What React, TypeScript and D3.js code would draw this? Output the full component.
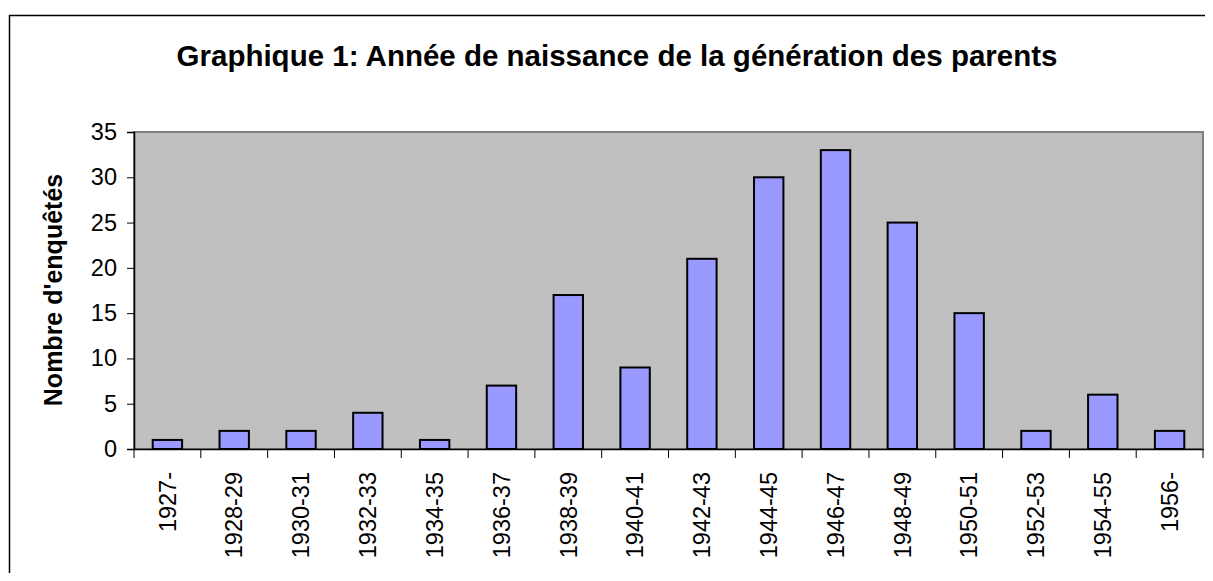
import { useEffect, useRef } from "react";
import * as d3 from "d3";

const categories = [
  "1927-", "1928-29", "1930-31", "1932-33", "1934-35", "1936-37", "1938-39", "1940-41",
  "1942-43", "1944-45", "1946-47", "1948-49", "1950-51", "1952-53", "1954-55", "1956-",
];
const values = [1, 2, 2, 4, 1, 7, 17, 9, 21, 30, 33, 25, 15, 2, 6, 2];
const yTicks = [0, 5, 10, 15, 20, 25, 30, 35];

const title = "Graphique 1: Année de naissance de la génération des parents";
const yLabel = "Nombre d'enquêtés";

export default function App() {
  const svgRef = useRef<SVGSVGElement>(null);

  useEffect(() => {
    if (!svgRef.current) return;
    const width = 1213;
    const height = 581;
    const svg = d3.select(svgRef.current);
    svg.selectAll("*").remove();

    const font = "Arial, 'Liberation Sans', sans-serif";
    const left = 134, right = 1203, top = 132, bottom = 449;

    // outer chart frame
    svg.append("rect")
      .attr("x", 9.5).attr("y", 15.5)
      .attr("width", width).attr("height", height)
      .attr("fill", "#fff").attr("stroke", "#000").attr("stroke-width", 1.5);

    svg.append("text")
      .attr("x", 617).attr("y", 66)
      .attr("text-anchor", "middle")
      .attr("font-family", font).attr("font-weight", "bold").attr("font-size", 29.5)
      .text(title);

    const x = d3.scaleBand<string>().domain(categories).range([left, right]).paddingInner(0.56).paddingOuter(0.28);
    const y = d3.scaleLinear().domain([0, 35]).range([bottom, top]);

    svg.append("rect")
      .attr("x", left).attr("y", top)
      .attr("width", right - left).attr("height", bottom - top)
      .attr("fill", "#c0c0c0").attr("stroke", "#808080").attr("stroke-width", 2);

    svg.append("g")
      .selectAll("rect")
      .data(values)
      .enter()
      .append("rect")
      .attr("x", (_, i) => x(categories[i])!)
      .attr("y", (d) => y(d))
      .attr("width", x.bandwidth())
      .attr("height", (d) => y(0) - y(d))
      .attr("fill", "#9999ff")
      .attr("stroke", "#000")
      .attr("stroke-width", 2);

    // y axis
    const yAxis = svg.append("g").attr("transform", `translate(${left},0)`)
      .call(d3.axisLeft(y).tickValues(yTicks).tickSize(7).tickPadding(10));
    yAxis.select(".domain").attr("stroke", "#000").attr("stroke-width", 1.5);
    yAxis.selectAll(".tick line").attr("stroke", "#000");
    yAxis.selectAll("text")
      .attr("font-family", font).attr("font-size", 23.5).attr("fill", "#000");

    // x axis
    const xAxis = svg.append("g").attr("transform", `translate(0,${bottom})`)
      .call(d3.axisBottom(x).tickSize(0).tickPadding(0));
    xAxis.select(".domain").attr("stroke", "#000").attr("stroke-width", 1.5);
    xAxis.selectAll("text")
      .attr("font-family", font).attr("font-size", 23.5).attr("fill", "#000")
      .attr("transform", "rotate(-90)")
      .attr("text-anchor", "end")
      .attr("x", -23).attr("y", 0).attr("dy", "0.35em");

    // category separators below the baseline
    svg.append("g")
      .selectAll("line")
      .data(d3.range(categories.length + 1))
      .enter()
      .append("line")
      .attr("x1", (i) => left + i * ((right - left) / categories.length))
      .attr("x2", (i) => left + i * ((right - left) / categories.length))
      .attr("y1", bottom).attr("y2", bottom + 9)
      .attr("stroke", "#000");

    svg.append("text")
      .attr("transform", `translate(62,290) rotate(-90)`)
      .attr("text-anchor", "middle")
      .attr("font-family", font).attr("font-weight", "bold").attr("font-size", 25)
      .text(yLabel);
  }, []);

  return (
    <div style={{ margin: -8 }}>
      <svg ref={svgRef} width={1213} height={581} style={{ display: "block" }} />
    </div>
  );
}
